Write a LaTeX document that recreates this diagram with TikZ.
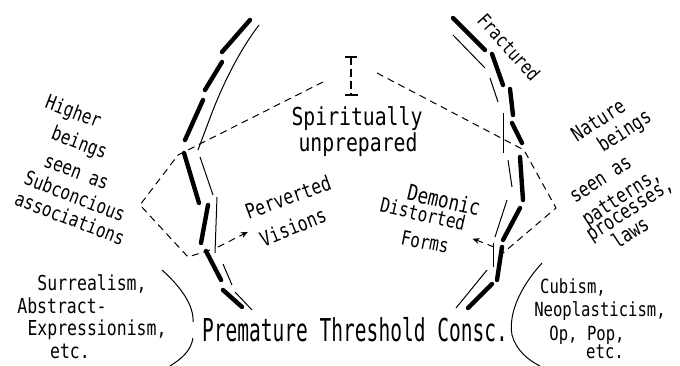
\documentclass[tikz,border=0pt]{standalone}
\usepackage{fontspec}
\setmainfont{DejaVu Sans Mono}[FakeStretch=0.8]
\newfontfamily\premfont{DejaVu Sans Mono}[FakeStretch=0.62]
\usetikzlibrary{arrows.meta}
\newcommand{\rt}[2]{\rotatebox[origin=c]{#1}{#2}}
\begin{document}
\begin{tikzpicture}[x=1pt,y=-1pt,
  bar/.style={line width=4.4pt,line cap=round},
  fine/.style={line width=1pt},
  dline/.style={line width=1pt,dash pattern=on 7pt off 5pt},
  lbl/.style={inner sep=0pt,anchor=center},
  bl/.style={inner sep=0pt,anchor=base},
  fa/.style={font=\fontsize{20}{22}\selectfont},
  fe/.style={font=\fontsize{22}{24}\selectfont},
  fr/.style={font=\fontsize{20.5}{22}\selectfont},
  fb/.style={font=\fontsize{20.6}{22}\selectfont},
  fq/.style={font=\fontsize{19.5}{22}\selectfont},
  fs/.style={font=\fontsize{24.7}{26}\selectfont},
  fc/.style={font=\premfont\fontsize{31.5}{33}\selectfont},
  fd/.style={font=\fontsize{19}{21}\selectfont}]
\useasboundingbox (0,0) rectangle (680,366);
% ---------- left column ----------
\draw[bar] (250,20) -- (222,52);
\draw[bar] (222,62) -- (205,90);
\draw[bar] (203,100) -- (185,140);
\draw[bar] (184,153) -- (199,203);
\draw[bar] (208,205) -- (201,243);
\draw[bar] (206,251) -- (221,280);
\draw[bar] (223,290) -- (242,307);
\draw[fine] (259,25) .. controls (240,50) and (225,80) .. (213,110) -- (198,150);
\draw[fine] (200,157) -- (213,195);
\draw[fine] (217,197) -- (215,253);
\draw[fine] (223,264) -- (232,285);
\draw[fine] (235,292) -- (252,310);
% ---------- right column ----------
\draw[bar] (453,18) -- (485,50);
\draw[bar] (492,54) -- (503,85);
\draw[bar] (510,89) -- (513,115);
\draw[bar] (512,123) -- (522,143);
\draw[bar] (520,157) -- (523,200);
\draw[bar] (520,208) -- (503,240);
\draw[bar] (502,247) -- (497,280);
\draw[bar] (492,284) -- (468,308);
\draw[fine] (453,35) -- (485,68);
\draw[fine] (490,78) -- (498,102);
\draw[fine] (503,113) -- (503,153);
\draw[fine] (508,160) -- (512,187);
\draw[fine] (507,200) -- (495,237);
\draw[fine] (493,243) -- (493,267);
\draw[fine] (487,270) -- (456,308);
% ---------- I-beam ----------
\coordinate (ibt) at (351,57);
\coordinate (ibb) at (351,95);
\draw[line width=2.2pt] (345,57) -- (357,57);
\draw[line width=1.6pt] (345,95) -- (358,95);
\draw[line width=1.4pt,dash pattern=on 8pt off 4pt] (ibt) -- (ibb);
% ---------- dashed polygons ----------
\coordinate (la) at (323,82);
\coordinate (lb) at (178,155);
\coordinate (lc) at (140,205);
\coordinate (ld) at (188,257);
\coordinate (le) at (210,250);
\draw[dline] (la) -- (lb) -- (lc) -- (ld) -- (le);
\coordinate (ra) at (377,73);
\coordinate (rb) at (524,150);
\coordinate (rc) at (556,208);
\coordinate (rd) at (503,253);
\draw[dline] (ra) -- (rb) -- (rc) -- (rd);
% ---------- labels ----------
\node[bl,fs] (spir) at (357,126) {Spiritually};
\node[bl,fs] (unpr) at (358,152) {unprepared};
\node[lbl,fd] (frac) at (509,47) {\rt{-48}{Fractured}};
\node[lbl,fb] (perv) at (288,197) {\rt{20}{Perverted}};
\node[lbl,fb] (visi) at (293,227) {\rt{22}{Visions}};
\node[lbl,fe] (demo) at (444,200) {\rt{-13}{Demonic}};
\node[lbl,fa] (dist) at (423,214) {\rt{-13}{Distorted}};
\node[lbl,fa] (form) at (425,242) {\rt{-11}{Forms}};
\coordinate (pva) at (218,247);
\draw[dline,shorten >=11pt,-{Stealth[length=7pt,width=6pt]}] (pva) -- (visi.west);
\coordinate (dfa) at (494,247);
\draw[dline,shorten >=24pt,-{Stealth[length=7pt,width=6pt]}] (dfa) -- (form.north east);
% left rotated block
\node[lbl,fa] (hig) at (73,113) {\rt{-21}{Higher}};
\node[lbl,fa] (bei) at (79,144) {\rt{-21}{beings}};
\node[lbl,fa] (see) at (76,173) {\rt{-21}{seen as}};
\node[lbl,fa] (sub) at (75,196) {\rt{-21}{Subconcious}};
\node[lbl,fa] (ass) at (70,218) {\rt{-21}{associations}};
% right rotated block
\node[lbl,fr] (nat) at (598,120) {\rt{33}{Nature}};
\node[lbl,fr] (nbe) at (625,132) {\rt{33}{beings}};
\node[lbl,fr] (nse) at (601,180) {\rt{33}{seen as}};
\node[lbl,fr] (pat) at (622,198) {\rt{33}{patterns,}};
\node[lbl,fr] (pro) at (631,212) {\rt{33}{processes,}};
\node[lbl,fr] (law) at (630,232) {\rt{33}{laws}};
% bottom
\node[bl,fc] (prem) at (355,341) {Premature Threshold Consc.};
\node[bl,fb] (sur) at (92,290) {Surrealism,};
\node[bl,fb] (abs) at (62,313) {Abstract-};
\node[bl,fb] (exp) at (97,335) {Expressionism,};
\node[bl,fb] (etl) at (70,358) {etc.};
\node[bl,fq] (cub) at (573,293) {Cubism,};
\node[bl,fq] (neo) at (600,316) {Neoplasticism,};
\node[bl,fq] (opp) at (587,340) {Op, Pop,};
\node[bl,fq] (etr) at (605,358) {etc.};
% brackets
\draw[fine] (162,270) .. controls (182,288) and (194,306) .. (193,322);
\draw[fine] (193,338) .. controls (191,350) and (183,358) .. (170,366);
\draw[fine] (542,263) .. controls (522,285) and (508,312) .. (512,335) .. controls (516,350) and (528,360) .. (540,366);
\end{tikzpicture}
\end{document}
